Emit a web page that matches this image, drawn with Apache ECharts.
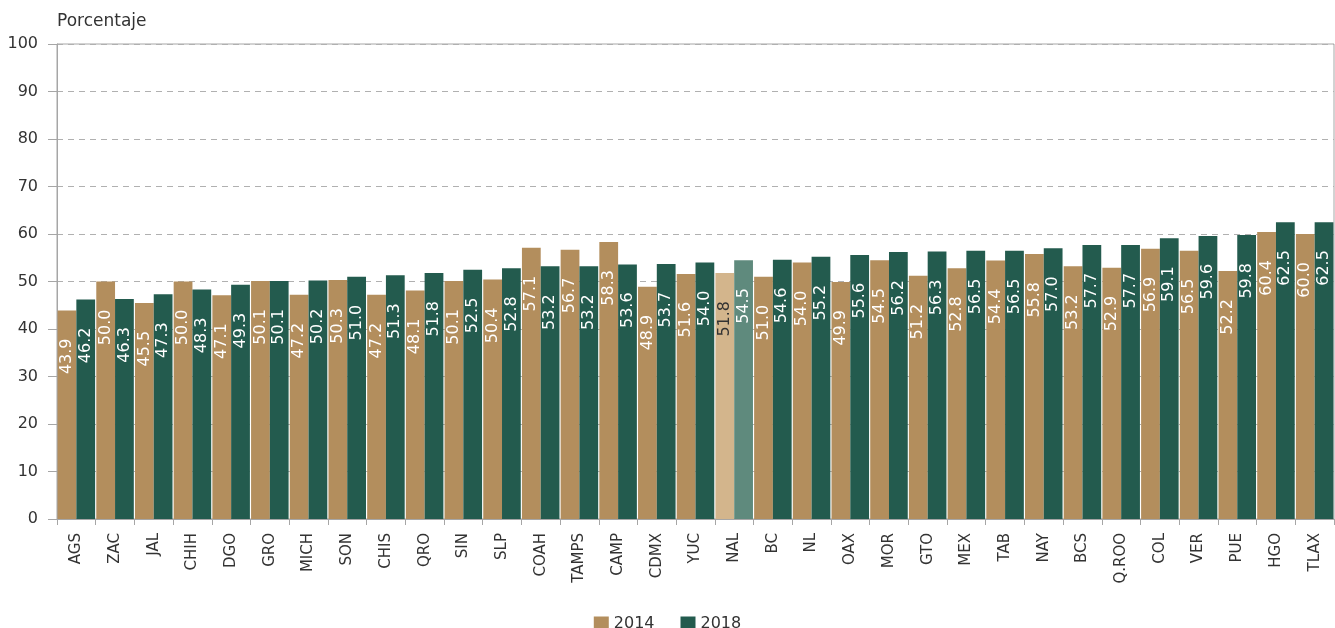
<!DOCTYPE html>
<html>
<head>
<meta charset="utf-8">
<script src="https://cdn.jsdelivr.net/npm/echarts@6/dist/echarts.min.js"></script>
<style>
  html, body { margin: 0; padding: 0; background: #fff; }
  #chart { width: 1335px; height: 628px; }
</style>
</head>
<body>
<div id="chart"></div>
<script>
const categories = ["AGS", "ZAC", "JAL", "CHIH", "DGO", "GRO", "MICH", "SON", "CHIS", "QRO", "SIN", "SLP", "COAH", "TAMPS", "CAMP", "CDMX", "YUC", "NAL", "BC", "NL", "OAX", "MOR", "GTO", "MEX", "TAB", "NAY", "BCS", "Q.ROO", "COL", "VER", "PUE", "HGO", "TLAX"];
const values2014 = [43.9, 50.0, 45.5, 50.0, 47.1, 50.1, 47.2, 50.3, 47.2, 48.1, 50.1, 50.4, 57.1, 56.7, 58.3, 48.9, 51.6, 51.8, 51.0, 54.0, 49.9, 54.5, 51.2, 52.8, 54.4, 55.8, 53.2, 52.9, 56.9, 56.5, 52.2, 60.4, 60.0];
const values2018 = [46.2, 46.3, 47.3, 48.3, 49.3, 50.1, 50.2, 51.0, 51.3, 51.8, 52.5, 52.8, 53.2, 53.2, 53.6, 53.7, 54.0, 54.5, 54.6, 55.2, 55.6, 56.2, 56.3, 56.5, 56.5, 57.0, 57.7, 57.7, 59.1, 59.6, 59.8, 62.5, 62.5];
const yTicks = [0, 10, 20, 30, 40, 50, 60, 70, 80, 90, 100];

const font = "DejaVu Sans";
const highlight = "NAL";

// national bar gets lighter colours
function toItems(values, light, lightText) {
  return values.map((v, i) => {
    if (categories[i] !== highlight) return v;
    return {
      value: v,
      itemStyle: { color: light },
      label: { color: lightText },
    };
  });
}

function barSeries(name, values, color, light, lightText) {
  return {
    name: name,
    type: "bar",
    barGap: "0%",
    barCategoryGap: "3%",
    itemStyle: { color: color },
    label: {
      show: true,
      position: "insideTop",
      rotate: 90,
      align: "right",
      verticalAlign: "middle",
      distance: 28,
      color: "#fff",
      fontFamily: font,
      fontSize: 16,
      formatter: (p) => p.value.toFixed(1),
    },
    data: toItems(values, light, lightText),
  };
}

const chart = echarts.init(document.getElementById("chart"));
chart.setOption({
  animation: false,
  textStyle: { fontFamily: font },
  grid: {
    left: 57,
    right: 1,
    top: 44,
    bottom: 109,
    show: true,
    borderColor: "#a6a6a6",
    borderWidth: 1,
  },
  legend: {
    top: 611,
    left: "center",
    itemWidth: 15,
    itemHeight: 15,
    itemGap: 26,
    icon: "rect",
    textStyle: { fontFamily: font, fontSize: 16, color: "#333" },
  },
  xAxis: {
    type: "category",
    data: categories,
    axisLine: { lineStyle: { color: "#a6a6a6" } },
    axisTick: { show: true, length: 6, lineStyle: { color: "#a6a6a6" } },
    axisLabel: {
      rotate: 90,
      interval: 0,
      margin: 14,
      color: "#333",
      fontFamily: font,
      fontSize: 15,
    },
  },
  yAxis: {
    type: "value",
    name: "Porcentaje",
    nameLocation: "end",
    nameGap: 14,
    nameTextStyle: { align: "left", color: "#333", fontFamily: font, fontSize: 17 },
    min: yTicks[0],
    max: yTicks[yTicks.length - 1],
    interval: 10,
    axisLine: { show: true, lineStyle: { color: "#a6a6a6" } },
    axisTick: { show: true, length: 9, lineStyle: { color: "#a6a6a6" } },
    axisLabel: { color: "#333", fontFamily: font, fontSize: 16, margin: 19 },
    splitLine: { lineStyle: { color: "#b0b0b0", type: [6, 5] } },
  },
  series: [
    barSeries("2014", values2014, "#b38e5d", "#d3b58c", "#333"),
    barSeries("2018", values2018, "#235b4e", "#5f8a7d", "#fff"),
  ],
});
</script>
</body>
</html>
